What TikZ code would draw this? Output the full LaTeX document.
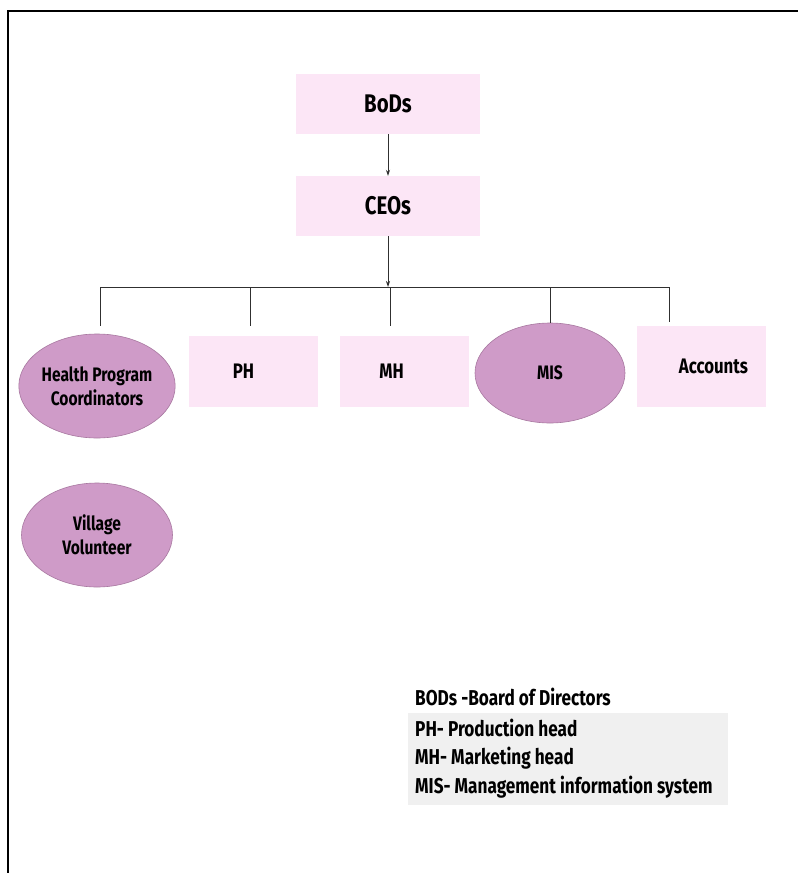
\documentclass[tikz,border=0pt]{standalone}
\usepackage{fontspec}
\setmainfont{Fira Sans}[FakeStretch=0.8]
\usetikzlibrary{shapes.geometric,arrows.meta}
\definecolor{boxpink}{HTML}{FCE6F6}
\definecolor{ellfill}{HTML}{CF9BC8}
\definecolor{elldraw}{HTML}{A878A0}
\definecolor{legbg}{HTML}{F0F0F0}
\definecolor{linec}{HTML}{303030}
\tikzset{
  pinkbox/.style={rectangle, fill=boxpink, draw=none, inner sep=0pt, font=\bfseries\fontsize{21}{24}\selectfont},
  bigbox/.style={pinkbox, minimum width=184pt, minimum height=60pt, font=\bfseries\fontsize{25.5}{28}\selectfont},
  smallbox/.style={pinkbox, minimum width=129pt, minimum height=71pt},
  oval/.style={ellipse, fill=ellfill, draw=elldraw, line width=0.6pt, inner sep=0pt, minimum width=151pt, minimum height=104pt, align=center, font=\bfseries\fontsize{19.5}{24}\selectfont},
  conn/.style={draw=linec, line width=0.8pt},
  arr/.style={conn, -{Stealth[length=6pt,width=4pt]}},
  legtext/.style={anchor=west, inner sep=0pt, font=\fontsize{21.5}{24}\selectfont\bfseries}
}
\begin{document}
\begin{tikzpicture}[x=1pt,y=-1pt]
\useasboundingbox (0,0) rectangle (798,873);
\fill[white] (0,0) rectangle (798,873);
% frame
\draw[line width=2pt, black] (8,873) -- (8,11) -- (798,11);

% top nodes
\node[bigbox] (bod) at (388,104) {BoDs};
\node[bigbox] (ceo) at (388,206) {CEOs};

% level 2
\node[oval] (hpc) at (97,386) {Health Program\\Coordinators};
\node[smallbox] (ph) at (253.5,371.5) {\hspace*{-20pt}PH};
\node[smallbox] (mh) at (404.5,371.5) {\hspace*{-26pt}MH};
\node[oval, minimum width=150pt, minimum height=100pt] (mis) at (550,373) {MIS};
\node[smallbox, minimum height=81pt] (acc) at (701,366.5) {\hspace*{25pt}Accounts};
\node[oval] (vv) at (97,535) {Village\\Volunteer};

% bar coordinates
\coordinate (bar) at (388,287);
\coordinate (barL) at (100,287);
\coordinate (barR) at (669,287);
\coordinate (bPH) at (250,287);
\coordinate (bMH) at (390,287);
\coordinate (bMIS) at (550,287);
\coordinate (eHPC) at (100,326);
\coordinate (ePH) at (250,326);
\coordinate (eMH) at (390,326);
\coordinate (eACC) at (669,322);

\draw[arr] (bod.south) -- (ceo.north);
\draw[arr] (ceo.south) -- (bar);
\draw[conn] (barL) -- (barR);
\draw[conn] (barL) -- (eHPC);
\draw[conn] (bPH) -- (ePH);
\draw[conn] (bMH) -- (eMH);
\draw[conn] (bMIS) -- (mis.north);
\draw[conn] (barR) -- (eACC);

% legend
\fill[legbg] (408,713) rectangle (728,805);
\node[legtext] (l1) at (415,697) {BODs -Board of Directors};
\node[legtext] (l2) at (415,728) {PH- Production head};
\node[legtext] (l3) at (415,758) {MH- Marketing head};
\node[legtext] (l4) at (415,787) {MIS- Management information system};
\end{tikzpicture}
\end{document}
